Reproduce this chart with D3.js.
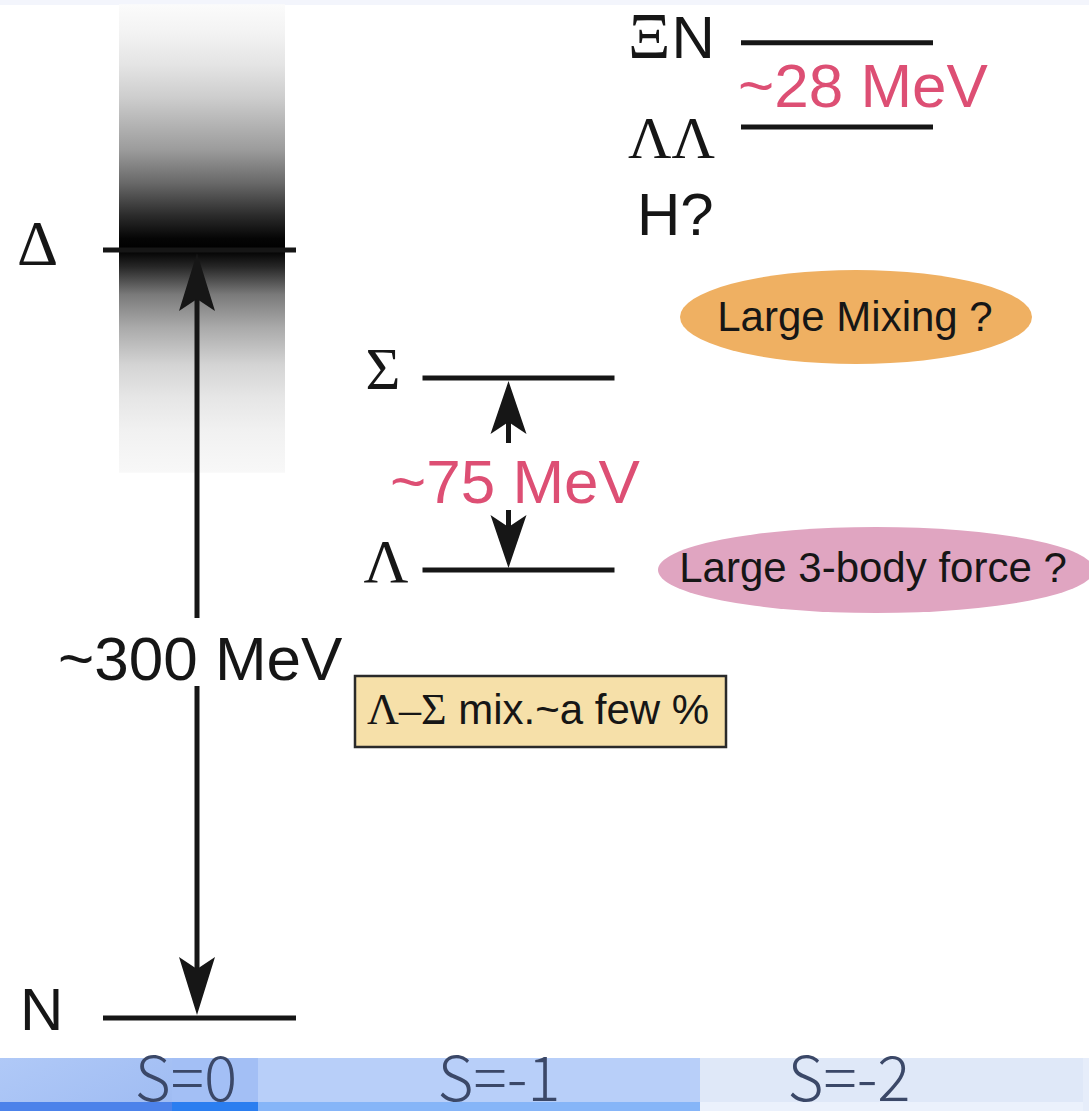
<!DOCTYPE html>
<html>
<head>
<meta charset="utf-8">
<script src="https://cdn.jsdelivr.net/npm/d3@7"></script>
<style>
  html, body { margin: 0; padding: 0; background: #ffffff; }
  svg { display: block; }
</style>
</head>
<body>
<svg id="chart" width="1089" height="1111"></svg>
<script>
// Baryon (and baryon-pair) levels, energy measured from N in MeV
const levelNames   = ["N", "Δ", "Λ", "Σ", "ΛΛ", "ΞN"];
const levelS       = [0, 0, -1, -1, -2, -2];
const levelEnergy  = [0, 300, 175, 250, 348, 381];
const levelSerif   = [false, true, true, true, true, false];

// Energy gaps marked on the diagram
const gapFrom   = ["N", "Λ", "ΛΛ"];
const gapTo     = ["Δ", "Σ", "ΞN"];
const gapLabels = ["~300 MeV", "~75 MeV", "~28 MeV"];

// Δ resonance width shown as a shaded band (MeV)
const deltaBand = [213, 396];

// Strangeness sectors along the bottom
const sectorS      = [0, -1, -2];
const sectorLabels = ["S=0", "S=-1", "S=-2"];

// Annotations
const noteLabels = ["Large Mixing ?", "Large 3-body force ?", "mix.~a few %"];
const extraLabel = "H?";

const SANS  = "'Liberation Sans', Arial, Helvetica, sans-serif";
const SERIF = "'Liberation Serif', 'Times New Roman', serif";
const INK   = "#161616";
const PINK  = "#dd4f74";

const svg = d3.select("#chart");
const W = 1089, H = 1111;

const y = d3.scaleLinear().domain([0, 300]).range([1018, 250]);
const x = d3.scaleLinear().domain([0, -2]).range([200, 837]);
const halfLine = 96;

const levels = levelNames.map((n, i) => ({
  name: n, S: levelS[i], E: levelEnergy[i], serif: levelSerif[i]
}));
const byName = Object.fromEntries(levels.map(d => [d.name, d]));

const defs = svg.append("defs");

// thin tinted strip along the top edge
svg.append("rect").attr("x", 0).attr("y", 0).attr("width", W).attr("height", 5)
  .attr("fill", "#f3f5fc");

// ---- Δ width band ----
const bandGrad = defs.append("linearGradient").attr("id", "deltaGrad")
  .attr("x1", 0).attr("x2", 0).attr("y1", 0).attr("y2", 1);
[
  [0.00, "#fbfbfb"], [0.06, "#f3f3f3"], [0.13, "#e4e4e4"], [0.20, "#cdcdcd"],
  [0.31, "#9c9c9c"], [0.38, "#6a6a6a"], [0.45, "#2c2c2c"], [0.50, "#050505"],
  [0.525, "#000000"], [0.56, "#262626"], [0.62, "#7a7a7a"], [0.69, "#aaaaaa"],
  [0.77, "#d4d4d4"], [0.84, "#e6e6e6"], [0.91, "#f1f1f1"], [1.00, "#f8f8f8"]
].forEach(([o, c]) => bandGrad.append("stop").attr("offset", o).attr("stop-color", c));

svg.append("rect")
  .attr("x", x(0) - 81).attr("width", 166)
  .attr("y", y(deltaBand[1])).attr("height", y(deltaBand[0]) - y(deltaBand[1]))
  .attr("fill", "url(#deltaGrad)");

// ---- level lines ----
svg.append("g").selectAll("line").data(levels).join("line")
  .attr("x1", d => x(d.S) - halfLine + (d.S === 0 ? -1 : 0))
  .attr("x2", d => x(d.S) + halfLine)
  .attr("y1", d => y(d.E)).attr("y2", d => y(d.E))
  .attr("stroke", INK).attr("stroke-width", 5);

// ---- level labels ----
const labelPos = {
  "N":  { dx: -180, dy: 12, size: 60 },
  "Δ":  { dx: -183, dy: 15, size: 64 },
  "Λ":  { dx: -155, dy: 12, size: 62 },
  "Σ":  { dx: -153, dy: 11, size: 60 },
  "ΛΛ": { dx: -209, dy: 31, size: 60 },
  "ΞN": { dx: -209, dy: 15, size: 60 }
};
levels.forEach(d => {
  const p = labelPos[d.name];
  const t = svg.append("text")
    .attr("x", x(d.S) + p.dx).attr("y", y(d.E) + p.dy)
    .attr("font-size", p.size).attr("fill", INK);
  if (d.name === "ΞN") {
    t.append("tspan").attr("font-family", SERIF).attr("font-size", 66).text("Ξ");
    t.append("tspan").attr("font-family", SANS).attr("dx", 1).text("N");
  } else {
    t.attr("font-family", d.serif ? SERIF : SANS).text(d.name);
  }
});

// H? below the ΛΛ threshold
svg.append("text")
  .attr("x", x(-2) - 200).attr("y", y(byName["ΛΛ"].E) + 108)
  .attr("font-family", SANS).attr("font-size", 60).attr("fill", INK)
  .text(extraLabel);

// ---- arrows ----
function head(xc, tipY, dir, len, half, notch) {
  // dir = -1 points up, +1 points down
  const baseY = tipY - dir * len;
  const p = d3.path();
  p.moveTo(xc, tipY);
  p.lineTo(xc + half, baseY);
  p.lineTo(xc, baseY + dir * notch);
  p.lineTo(xc - half, baseY);
  p.closePath();
  return p.toString();
}

// N ↔ Δ
{
  const ax = x(0) - 3;
  const top = y(byName["Δ"].E) + 3, bot = y(byName["N"].E) - 3;
  const g = svg.append("g").attr("fill", INK).attr("stroke", INK);
  g.append("line").attr("x1", ax).attr("x2", ax).attr("y1", top + 30).attr("y2", 618)
    .attr("stroke-width", 5);
  g.append("line").attr("x1", ax).attr("x2", ax).attr("y1", 686).attr("y2", bot - 30)
    .attr("stroke-width", 5);
  g.append("path").attr("d", head(ax, top, -1, 58, 18, 12)).attr("stroke", "none");
  g.append("path").attr("d", head(ax, bot, 1, 58, 18, 12)).attr("stroke", "none");

  svg.append("text").attr("x", 58).attr("y", 680)
    .attr("font-family", SANS).attr("font-size", 62).attr("fill", INK)
    .text(gapLabels[0]);
}

// Λ ↔ Σ
{
  const ax = x(-1) - 10;
  const top = y(byName["Σ"].E) + 3, bot = y(byName["Λ"].E) - 2;
  const g = svg.append("g").attr("fill", INK).attr("stroke", INK);
  g.append("line").attr("x1", ax).attr("x2", ax).attr("y1", top + 30).attr("y2", 443)
    .attr("stroke-width", 5);
  g.append("line").attr("x1", ax).attr("x2", ax).attr("y1", 510).attr("y2", bot - 30)
    .attr("stroke-width", 5);
  g.append("path").attr("d", head(ax, top, -1, 53, 18, 12)).attr("stroke", "none");
  g.append("path").attr("d", head(ax, bot, 1, 53, 18, 12)).attr("stroke", "none");

  svg.append("text").attr("x", 390).attr("y", 503)
    .attr("font-family", SANS).attr("font-size", 62).attr("fill", PINK)
    .text(gapLabels[1]);
}

// ΛΛ – ΞN splitting
svg.append("text").attr("x", 738).attr("y", 107)
  .attr("font-family", SANS).attr("font-size", 62).attr("fill", PINK)
  .text(gapLabels[2]);

// ---- annotation bubbles ----
svg.append("ellipse").attr("cx", 856).attr("cy", 317).attr("rx", 176).attr("ry", 47)
  .attr("fill", "#efb062");
svg.append("text").attr("x", 855).attr("y", 331).attr("text-anchor", "middle")
  .attr("font-family", SANS).attr("font-size", 42).attr("fill", INK)
  .text(noteLabels[0]);

svg.append("ellipse").attr("cx", 876).attr("cy", y(byName["Λ"].E)).attr("rx", 218).attr("ry", 43)
  .attr("fill", "#e0a5c1");
svg.append("text").attr("x", 873).attr("y", 582).attr("text-anchor", "middle")
  .attr("font-family", SANS).attr("font-size", 42).attr("fill", INK)
  .text(noteLabels[1]);

// Λ–Σ mixing box
svg.append("rect").attr("x", 355).attr("y", 676).attr("width", 371).attr("height", 71)
  .attr("fill", "#f6e0a9").attr("stroke", "#2a2a2a").attr("stroke-width", 2.5);
{
  const t = svg.append("text").attr("x", 367).attr("y", 724)
    .attr("font-size", 42).attr("fill", INK);
  t.append("tspan").attr("font-family", SERIF).attr("font-size", 44).text("Λ–Σ");
  t.append("tspan").attr("font-family", SANS).text(" " + noteLabels[2]);
}

// ---- strangeness strip ----
const stripTop = 1058, stripBandTop = 1102;
const sectorEdges = [0, 258, 700, W];
const sectorFill  = ["#a2bef4", "#b8cff9", "#dfe8f8"];
const sectorBand  = ["#4c82ea", "#86b5f8", "#ebf1fc"];

const g0 = defs.append("linearGradient").attr("id", "s0Grad")
  .attr("x1", 0).attr("x2", 1).attr("y1", 0).attr("y2", 0.4);
g0.append("stop").attr("offset", 0).attr("stop-color", "#b0c9f7");
g0.append("stop").attr("offset", 1).attr("stop-color", "#9dbaf2");

sectorS.forEach((s, i) => {
  svg.append("rect")
    .attr("x", sectorEdges[i]).attr("width", sectorEdges[i + 1] - sectorEdges[i])
    .attr("y", stripTop).attr("height", H - stripTop)
    .attr("fill", i === 0 ? "url(#s0Grad)" : sectorFill[i]);
  svg.append("rect")
    .attr("x", sectorEdges[i]).attr("width", sectorEdges[i + 1] - sectorEdges[i])
    .attr("y", stripBandTop).attr("height", H - stripBandTop)
    .attr("fill", sectorBand[i]);
});
// lighter inset tile in the S=0 sector
svg.append("rect").attr("x", 172).attr("width", 86)
  .attr("y", stripTop).attr("height", stripBandTop - stripTop).attr("fill", "#a3bff5");
svg.append("rect").attr("x", 172).attr("width", 86)
  .attr("y", stripBandTop).attr("height", H - stripBandTop).attr("fill", "#2b7ef0");
svg.append("rect").attr("x", 1083).attr("width", 6)
  .attr("y", stripTop).attr("height", H - stripTop).attr("fill", "#e6edfa");

const sectorCenters = [186, 499, 849];
svg.append("g").selectAll("text").data(sectorLabels).join("text")
  .attr("x", (d, i) => sectorCenters[i]).attr("y", 1101)
  .attr("text-anchor", "middle")
  .attr("font-family", "'Noto Sans CJK JP', 'Noto Sans', sans-serif")
  .attr("font-weight", 300).attr("font-size", 62)
  .attr("fill", "#3b4868")
  .text(d => d);
</script>
</body>
</html>
